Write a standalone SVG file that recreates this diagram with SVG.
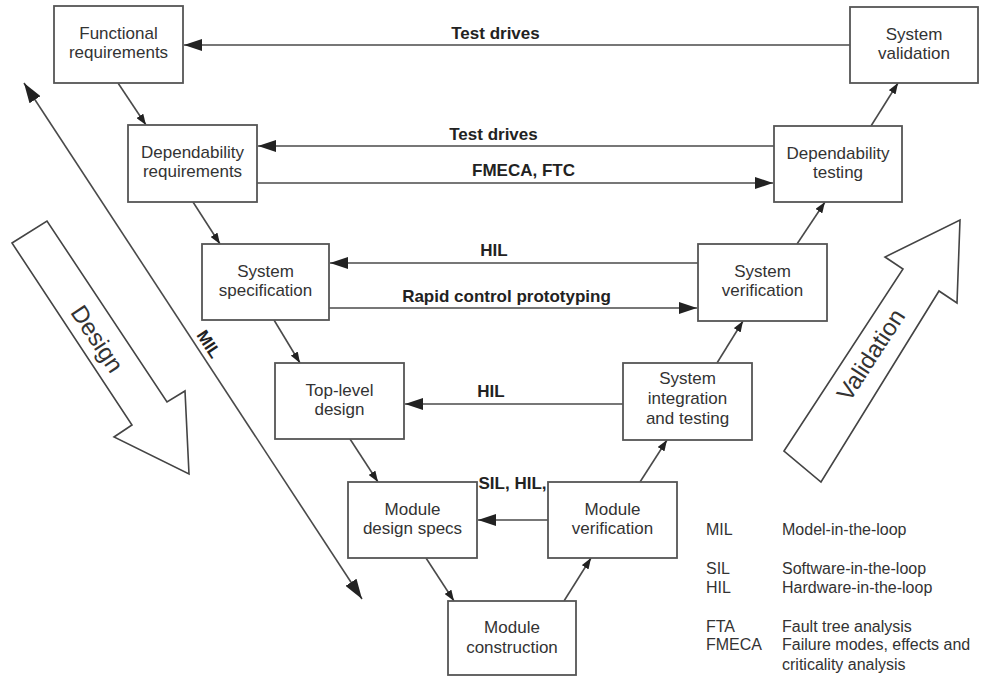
<svg xmlns="http://www.w3.org/2000/svg" width="987" height="676" viewBox="0 0 987 676">
<defs>
<style>
.box{fill:#fff;stroke:#555;stroke-width:1.8}
.t{font-family:"Liberation Sans",Arial,sans-serif;font-size:17px;fill:#333;text-anchor:middle}
.b{font-family:"Liberation Sans",Arial,sans-serif;font-size:17px;font-weight:bold;fill:#222;text-anchor:middle}
.lg{font-family:"Liberation Sans",Arial,sans-serif;font-size:16px;fill:#333}
.big{font-family:"Liberation Sans",Arial,sans-serif;font-size:24px;fill:#333;text-anchor:middle}
.ln{stroke:#4a4a4a;stroke-width:1.6;fill:none}
.h{marker-end:url(#ah)}
.d{marker-end:url(#as)}
.hollow{fill:#fff;stroke:#444;stroke-width:1.6;stroke-linejoin:miter}
</style>
<marker id="ah" viewBox="0 0 18 12" refX="18" refY="6" markerWidth="18" markerHeight="12" markerUnits="userSpaceOnUse" orient="auto"><path d="M0,0 L18,6 L0,12 z" fill="#222"/></marker>
<marker id="as" viewBox="0 0 11 8" refX="11" refY="4" markerWidth="11" markerHeight="8" markerUnits="userSpaceOnUse" orient="auto"><path d="M0,0 L11,4 L0,8 z" fill="#222"/></marker>
<marker id="am" viewBox="0 0 20 13" refX="20" refY="6.5" markerWidth="20" markerHeight="13" markerUnits="userSpaceOnUse" orient="auto-start-reverse"><path d="M0,0 L20,6.5 L0,13 z" fill="#222"/></marker>
</defs>
<rect width="987" height="676" fill="#fff"/>

<g id="design-arrow">
<polygon class="hollow" points="12,243 47,221 167,402 185,391 189,474 114,437 132,425"/>
<text class="big" transform="translate(97,339) rotate(56.5)" dy="8">Design</text>
</g>
<g id="validation-arrow">
<polygon class="hollow" points="784,451 903,269 885,257 960,220 957,303 939,291 821,482"/>
<text class="big" transform="translate(871,355) rotate(-57)" dy="8">Validation</text>
</g>

<g id="connectors">
<line class="ln h" x1="850" y1="45" x2="184" y2="45"/>
<line class="ln h" x1="774" y1="146" x2="258" y2="146"/>
<line class="ln h" x1="257" y1="183" x2="773" y2="183"/>
<line class="ln h" x1="698" y1="263" x2="330" y2="263"/>
<line class="ln h" x1="329" y1="308" x2="697" y2="308"/>
<line class="ln h" x1="623" y1="404" x2="405" y2="404"/>
<line class="ln h" x1="548" y1="520" x2="478" y2="520"/>
<line class="ln d" x1="118" y1="83" x2="146" y2="125"/>
<line class="ln d" x1="193" y1="202" x2="220" y2="244"/>
<line class="ln d" x1="274" y1="320" x2="300" y2="363"/>
<line class="ln d" x1="350" y1="439" x2="378" y2="482"/>
<line class="ln d" x1="426" y1="558" x2="454" y2="601"/>
<line class="ln d" x1="564" y1="601" x2="591" y2="558"/>
<line class="ln d" x1="640" y1="482" x2="667" y2="440"/>
<line class="ln d" x1="717" y1="363" x2="743" y2="321"/>
<line class="ln d" x1="797" y1="244" x2="825" y2="202"/>
<line class="ln d" x1="871" y1="126" x2="898" y2="83"/>
<line class="ln" x1="24" y1="83" x2="362" y2="599" marker-start="url(#am)" marker-end="url(#am)"/>
<text class="b" x="495.5" y="39">Test drives</text>
<text class="b" x="493.5" y="140">Test drives</text>
<text class="b" x="523.5" y="176">FMECA, FTC</text>
<text class="b" x="494" y="256">HIL</text>
<text class="b" x="506.5" y="302">Rapid control prototyping</text>
<text class="b" x="491" y="397">HIL</text>
<text class="b" x="512.5" y="489">SIL, HIL,</text>
<text class="b" transform="translate(209,344) rotate(56.8)" dy="6">MIL</text>
</g>

<g id="functional-requirements"><rect class="box" x="54" y="6" width="129" height="77"/><text class="t" x="118.5" y="39">Functional</text><text class="t" x="118.5" y="58">requirements</text></g>
<g id="dependability-requirements"><rect class="box" x="128" y="125" width="129" height="77"/><text class="t" x="192.5" y="158">Dependability</text><text class="t" x="192.5" y="177">requirements</text></g>
<g id="system-specification"><rect class="box" x="202" y="244" width="127" height="76"/><text class="t" x="265.5" y="277">System</text><text class="t" x="265.5" y="296">specification</text></g>
<g id="top-level-design"><rect class="box" x="275" y="363" width="129" height="76"/><text class="t" x="339.5" y="396">Top-level</text><text class="t" x="339.5" y="415">design</text></g>
<g id="module-design-specs"><rect class="box" x="348" y="482" width="129" height="76"/><text class="t" x="412.5" y="515">Module</text><text class="t" x="412.5" y="534">design specs</text></g>
<g id="module-construction"><rect class="box" x="448" y="601" width="128" height="74"/><text class="t" x="512" y="633">Module</text><text class="t" x="512" y="653">construction</text></g>
<g id="module-verification"><rect class="box" x="548" y="482" width="129" height="76"/><text class="t" x="612.5" y="515">Module</text><text class="t" x="612.5" y="534">verification</text></g>
<g id="system-integration"><rect class="box" x="623" y="363" width="129" height="77"/><text class="t" x="687.5" y="384">System</text><text class="t" x="687.5" y="404">integration</text><text class="t" x="687.5" y="424">and testing</text></g>
<g id="system-verification"><rect class="box" x="698" y="244" width="129" height="77"/><text class="t" x="762.5" y="277">System</text><text class="t" x="762.5" y="296">verification</text></g>
<g id="dependability-testing"><rect class="box" x="774" y="126" width="128" height="76"/><text class="t" x="838" y="159">Dependability</text><text class="t" x="838" y="178">testing</text></g>
<g id="system-validation"><rect class="box" x="850" y="7" width="128" height="76"/><text class="t" x="914" y="40">System</text><text class="t" x="914" y="59">validation</text></g>

<g id="legend">
<text class="lg" x="706" y="535">MIL</text><text class="lg" x="782" y="535">Model-in-the-loop</text>
<text class="lg" x="706" y="574">SIL</text><text class="lg" x="782" y="574">Software-in-the-loop</text>
<text class="lg" x="706" y="593">HIL</text><text class="lg" x="782" y="593">Hardware-in-the-loop</text>
<text class="lg" x="706" y="632">FTA</text><text class="lg" x="782" y="632">Fault tree analysis</text>
<text class="lg" x="706" y="650">FMECA</text><text class="lg" x="782" y="650">Failure modes, effects and</text>
<text class="lg" x="782" y="669.5">criticality analysis</text>
</g>
</svg>
